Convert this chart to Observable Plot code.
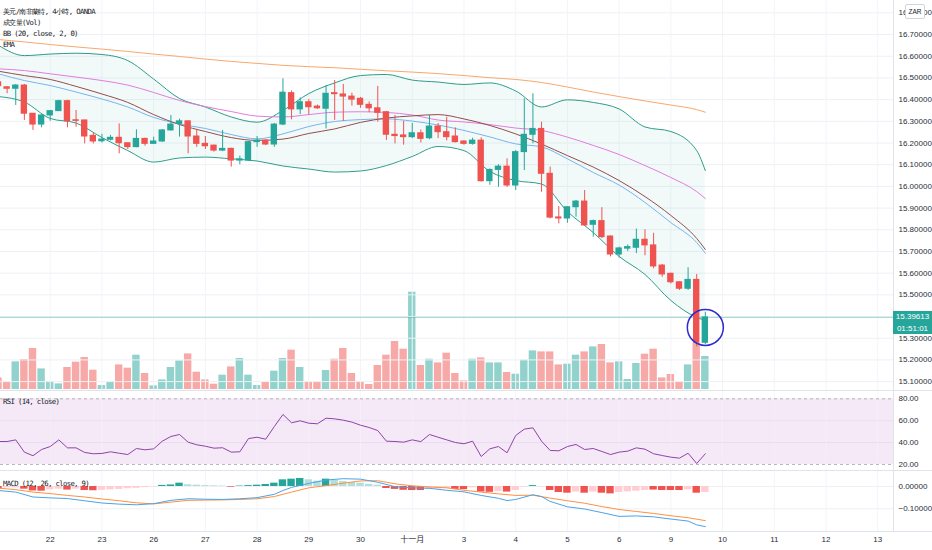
<!DOCTYPE html>
<html><head><meta charset="utf-8">
<script src="https://cdn.jsdelivr.net/npm/d3@7"></script>
<script src="https://cdn.jsdelivr.net/npm/@observablehq/plot@0.6"></script>
<style>
body{margin:0;background:#fff;}
#wrap{position:relative;width:932px;height:550px;overflow:hidden;font-family:"Liberation Sans",Arial,sans-serif;background:#fff;}
#wrap svg{position:absolute;left:0;}
.leg{position:absolute;left:3px;font:7.3px "DejaVu Sans Mono",monospace;letter-spacing:-0.65px;color:#131722;white-space:nowrap;line-height:8px;}
.sep{position:absolute;background:#e0e3eb;}
.tag{position:absolute;left:893px;width:39px;background:#26a69a;color:#fff;font:8px "Liberation Sans",Arial,sans-serif;text-align:center;}
</style></head><body><div id="wrap"></div>
<script>
// ---- data ----
const dayIndex = [6,12,18,24,30,36,42,48,54,60,66,72,78,84,90,96,102];
const dayLabels = ["22","23","26","27","28","29","30","十一月","3","4","5","6","9","10","11","12","13"];
const priceGrid = [15.1,15.2,15.3,15.4,15.5,15.6,15.7,15.8,15.9,16.0,16.1,16.2,16.3,16.4,16.5,16.6,16.7,16.8];
const priceLabels = [15.1,15.2,15.3,15.5,15.6,15.7,15.8,15.9,16.0,16.1,16.2,16.3,16.4,16.5,16.6,16.7,16.8];
const rsiTicks = [20,40,60,80];
const rsiBands = [20,80];
const macdTicks = [0,-0.1];
const lastPrice = 15.39613;
const countdown = "01:51:01";
const highlight = {index:82, price:15.35};

const opens = [16.480,16.457,16.450,16.465,16.335,16.285,16.327,16.347,16.393,16.305,16.304,16.233,16.208,16.215,16.224,16.199,16.181,16.219,16.196,16.207,16.258,16.288,16.300,16.230,16.196,16.188,16.165,16.173,16.119,16.119,16.204,16.211,16.193,16.285,16.430,16.355,16.388,16.368,16.358,16.430,16.424,16.414,16.404,16.376,16.360,16.342,16.238,16.235,16.227,16.245,16.222,16.276,16.250,16.230,16.207,16.196,16.211,16.024,16.076,16.091,16.004,16.158,16.238,16.265,16.058,15.857,15.852,15.904,15.930,15.823,15.840,15.769,15.686,15.713,15.717,15.754,15.728,15.635,15.597,15.558,15.528,15.569,15.279];
const highs = [16.485,16.460,16.470,16.470,16.335,16.330,16.350,16.397,16.397,16.350,16.305,16.245,16.240,16.235,16.288,16.200,16.261,16.222,16.227,16.262,16.327,16.310,16.302,16.260,16.230,16.190,16.258,16.176,16.140,16.207,16.230,16.215,16.290,16.496,16.440,16.408,16.400,16.375,16.465,16.488,16.470,16.430,16.410,16.390,16.461,16.345,16.327,16.300,16.290,16.260,16.327,16.290,16.319,16.270,16.210,16.222,16.224,16.080,16.100,16.127,16.165,16.404,16.427,16.296,16.089,15.907,15.906,15.935,15.981,15.845,15.902,15.772,15.720,15.730,15.803,15.800,15.784,15.640,15.600,15.560,15.625,15.594,15.420];
const lows = [16.455,16.427,16.373,16.304,16.258,16.270,16.300,16.345,16.270,16.273,16.196,16.196,16.200,16.210,16.150,16.170,16.178,16.185,16.193,16.203,16.255,16.227,16.150,16.180,16.170,16.158,16.160,16.089,16.100,16.115,16.180,16.188,16.180,16.280,16.307,16.331,16.330,16.355,16.265,16.304,16.300,16.370,16.360,16.340,16.296,16.212,16.196,16.190,16.220,16.200,16.215,16.220,16.210,16.200,16.190,16.190,16.020,16.005,15.996,15.995,15.981,16.073,16.196,15.973,15.850,15.827,15.830,15.858,15.815,15.766,15.760,15.675,15.670,15.700,15.690,15.680,15.620,15.581,15.550,15.520,15.520,15.260,15.270];
const closes = [16.462,16.450,16.465,16.335,16.285,16.327,16.347,16.393,16.300,16.302,16.230,16.207,16.216,16.224,16.199,16.181,16.219,16.196,16.207,16.258,16.285,16.300,16.230,16.196,16.185,16.165,16.173,16.119,16.125,16.204,16.211,16.193,16.285,16.432,16.355,16.388,16.365,16.360,16.427,16.425,16.414,16.400,16.376,16.360,16.339,16.238,16.232,16.227,16.245,16.219,16.276,16.250,16.227,16.204,16.196,16.211,16.024,16.076,16.091,16.004,16.158,16.238,16.265,16.058,15.856,15.852,15.904,15.930,15.820,15.840,15.766,15.686,15.714,15.720,15.754,15.728,15.631,15.594,15.558,15.528,15.569,15.279,15.396];
const volumes = [11600,7000,27600,30000,41000,20600,8000,5600,22000,27300,32000,19300,4000,7000,24600,21300,34300,16000,3600,9600,22000,28600,35600,17300,9600,5300,14300,22600,31000,14300,4000,7000,18300,31000,39300,22000,7000,7000,19000,30300,41000,16000,7600,5000,24000,34300,48000,40300,97300,24000,30300,26600,36300,16000,8600,30300,31600,26600,26600,17000,15300,29300,38600,37600,37600,24600,25300,34300,37600,42600,45000,26600,27600,10000,26000,35300,40300,11600,15000,7300,24600,46000,33000];

const lineIdx = [0,3,6,9,12,15,18,21,24,27,30,33,36,39,42,45,48,51,54,57,60,63,66,69,72,75,78,81,82];
const emaOrange = [16.677,16.666,16.654,16.643,16.633,16.622,16.610,16.599,16.587,16.576,16.567,16.558,16.552,16.547,16.540,16.533,16.527,16.520,16.511,16.501,16.493,16.479,16.458,16.435,16.414,16.394,16.375,16.354,16.342];
const emaPink = [16.542,16.534,16.519,16.504,16.488,16.467,16.433,16.396,16.368,16.345,16.324,16.320,16.331,16.342,16.344,16.341,16.329,16.306,16.297,16.285,16.269,16.258,16.227,16.189,16.147,16.096,16.041,15.976,15.944];
const emaBrown = [16.531,16.511,16.493,16.461,16.426,16.387,16.331,16.285,16.253,16.225,16.212,16.218,16.244,16.265,16.295,16.315,16.325,16.331,16.311,16.281,16.242,16.195,16.142,16.089,16.027,15.953,15.866,15.760,15.709];
const emaBlue = [16.519,16.488,16.465,16.435,16.403,16.366,16.318,16.288,16.267,16.239,16.219,16.242,16.276,16.299,16.308,16.311,16.301,16.283,16.258,16.228,16.196,16.182,16.127,16.064,16.006,15.926,15.833,15.741,15.692];
const bbUpper = [16.650,16.603,16.610,16.614,16.608,16.580,16.495,16.405,16.366,16.320,16.296,16.350,16.428,16.477,16.511,16.516,16.490,16.481,16.470,16.477,16.440,16.366,16.399,16.387,16.357,16.274,16.253,16.165,16.073];
const bbLower = [16.414,16.389,16.313,16.292,16.225,16.165,16.112,16.131,16.135,16.127,16.117,16.094,16.080,16.066,16.071,16.096,16.138,16.184,16.165,16.069,16.027,16.011,15.884,15.787,15.677,15.594,15.474,15.396,15.382];

const rsi = [41,41,42.5,31.3,28,33.7,36.4,42.5,35.2,35.2,31,29.8,30.1,31.6,30.3,29.1,34.6,33.4,34.3,41.3,45.6,47.4,40.4,38,36.7,34.9,35.3,31.3,31.6,43.7,44.9,43.1,54.7,65.7,58.1,59.9,57.7,57.2,62.3,61.7,60.5,58.7,55.9,53.8,51,41.3,41,40.4,42.5,40.9,47.4,44.9,42.5,40.1,38.9,41.3,27.3,34.3,36.4,30.7,46.5,52.3,53.5,41.3,32.8,32.5,36.4,38.3,33.7,34.6,31.9,29.1,31.3,32.2,35.2,34,29.8,28.2,26.7,25.8,30.3,20.9,29.8];

const macdIdx = [0,2,4,6,8,10,12,14,16,18,20,22,24,26,28,30,32,33,34,36,38,40,42,44,46,48,50,52,54,56,58,59,60,62,63,64,66,68,70,72,74,76,78,80,81,82];
const macdVals = [-0.018,-0.025,-0.047,-0.051,-0.054,-0.064,-0.074,-0.079,-0.082,-0.077,-0.062,-0.055,-0.057,-0.058,-0.055,-0.050,-0.035,-0.018,-0.004,0.014,0.029,0.035,0.033,0.019,-0.001,-0.006,-0.008,-0.017,-0.024,-0.040,-0.053,-0.063,-0.058,-0.037,-0.045,-0.067,-0.091,-0.101,-0.117,-0.134,-0.132,-0.136,-0.146,-0.155,-0.172,-0.180];
const signalIdx = [0,2,4,6,8,10,12,14,16,18,20,22,24,26,28,30,32,34,36,38,40,42,44,46,48,50,52,54,56,58,60,62,64,66,68,70,72,74,76,78,80,82];
const signalVals = [-0.0075,-0.014,-0.025,-0.032,-0.040,-0.047,-0.056,-0.064,-0.073,-0.078,-0.070,-0.062,-0.061,-0.060,-0.058,-0.055,-0.045,-0.025,-0.006,0.004,0.015,0.025,0.026,0.012,0.003,-0.002,-0.006,-0.017,-0.025,-0.033,-0.040,-0.039,-0.052,-0.064,-0.075,-0.090,-0.103,-0.112,-0.121,-0.131,-0.140,-0.153];
const histVals = [-0.009,-0.006,-0.006,-0.012,-0.020,-0.021,-0.015,-0.012,-0.016,-0.012,-0.018,-0.019,-0.017,-0.015,-0.013,-0.010,-0.008,-0.005,-0.002,0.005,0.007,0.015,0.008,0.006,0.004,0.003,0.002,-0.003,0.002,0.004,0.006,0.009,0.015,0.030,0.033,0.036,0.030,0.024,0.033,0.027,0.022,0.018,0.015,0.010,0.006,-0.009,-0.013,-0.017,-0.018,-0.018,-0.013,-0.011,-0.009,-0.013,-0.014,-0.006,-0.025,-0.026,-0.022,-0.025,-0.018,-0.003,0.004,-0.002,-0.018,-0.027,-0.030,-0.025,-0.030,-0.025,-0.030,-0.033,-0.027,-0.024,-0.021,-0.018,-0.016,-0.018,-0.018,-0.018,-0.015,-0.030,-0.027];
const histState = ["dn","dnF","dnF","dn","dn","dn","dnF","dnF","dn","dnF","dn","dn","dnF","dnF","dnF","dnF","dnF","dnF","dnF","up","up","up","upF","upF","upF","upF","upF","dn","up","up","up","up","up","up","up","up","upF","upF","up","upF","upF","upF","upF","upF","upF","dn","dn","dn","dn","dn","dnF","dnF","dnF","dn","dn","dnF","dn","dn","dnF","dn","dnF","dnF","up","dnF","dn","dn","dn","dnF","dn","dnF","dn","dn","dnF","dnF","dnF","dnF","dn","dn","dn","dn","dnF","dn","dnF"];

// ---- styling ----
const UP = "#26a69a", DN = "#ef5350";
const histColor = {up:"#26a69a", upF:"#b2dfdb", dn:"#ef5350", dnF:"#ffcdd2"};
const XD = [0.232, 103.83];
const W = 932, MR = 39;
const font = {fontFamily:"'Liberation Sans', Arial, 'Noto Sans CJK TC', sans-serif", fontSize:"8px", background:"transparent", overflow:"visible"};

const candles = opens.map((o,i)=>({i, o, h:highs[i], l:lows[i], c:closes[i], v:volumes[i], col: closes[i]>=o ? UP : DN}));
const lines = lineIdx.map((i,k)=>({i, orange:emaOrange[k], pink:emaPink[k], brown:emaBrown[k], blue:emaBlue[k], up:bbUpper[k], lo:bbLower[k]}));
const rsiData = rsi.map((v,i)=>({i, v}));
const macdData = macdIdx.map((i,k)=>({i, v:macdVals[k]}));
const sigData = signalIdx.map((i,k)=>({i, v:signalVals[k]}));
const histData = histVals.map((v,i)=>({i, v, col:histColor[histState[i]]}));

const wrap = document.getElementById("wrap");

// main price pane
const main = Plot.plot({
  width:W, height:390, marginLeft:0, marginRight:MR, marginTop:0, marginBottom:0,
  style:font,
  x:{domain:XD, axis:null}, y:{domain:[15.059,16.857]}, color:{type:"identity"},
  marks:[
    Plot.gridY(priceGrid,{stroke:"#eef0f5", strokeOpacity:1}),
    Plot.gridX(dayIndex,{stroke:"#f3f4f8", strokeOpacity:1}),
    Plot.areaY(lines,{x:"i", y1:"lo", y2:"up", fill:"#26a69a", fillOpacity:0.06, curve:"monotone-x", clip:true}),
    Plot.line(lines,{x:"i", y:"up", stroke:"#2f9c8b", strokeWidth:1, curve:"monotone-x", clip:true}),
    Plot.line(lines,{x:"i", y:"lo", stroke:"#2f9c8b", strokeWidth:1, curve:"monotone-x", clip:true}),
    Plot.line(lines,{x:"i", y:"orange", stroke:"#f9a86b", strokeWidth:1, curve:"monotone-x", clip:true}),
    Plot.line(lines,{x:"i", y:"pink", stroke:"#e47be0", strokeWidth:1, curve:"monotone-x", clip:true}),
    Plot.line(lines,{x:"i", y:"blue", stroke:"#79b4ee", strokeWidth:1, curve:"monotone-x", clip:true}),
    Plot.line(lines,{x:"i", y:"brown", stroke:"#934d4b", strokeWidth:1, curve:"monotone-x", clip:true}),
    Plot.ruleY([lastPrice],{stroke:"#26a69a", strokeOpacity:0.45, strokeWidth:1}),
    Plot.ruleX(candles,{x:"i", y1:"l", y2:"h", stroke:"col", strokeWidth:1, clip:true}),
    Plot.rect(candles,{x1:d=>d.i-0.37, x2:d=>d.i+0.37, y1:"o", y2:"c", fill:"col", insetTop:-0.5, insetBottom:-0.5, clip:true}),
    Plot.dot([highlight],{x:"index", y:"price", r:18, stroke:"#2b2bd1", strokeWidth:1.5, fill:"none"}),
    Plot.axisY(priceLabels,{anchor:"right", tickSize:0, tickPadding:5, tickFormat:d=>d.toFixed(5), label:null, fill:"#2a2e39"})
  ]
});
main.style.top = "0px";

// volume overlay (same time scale, own volume scale)
const volPlot = Plot.plot({
  width:W, height:390, marginLeft:0, marginRight:MR, marginTop:0, marginBottom:1,
  style:font,
  x:{domain:XD, axis:null}, y:{domain:[0,389000], axis:null}, color:{type:"identity"},
  marks:[
    Plot.rectY(candles,{x1:d=>d.i-0.43, x2:d=>d.i+0.43, y:"v", fill:"col", fillOpacity:0.5, clip:true})
  ]
});
volPlot.style.top = "0px";

// RSI pane
const rsiPlot = Plot.plot({
  width:W, height:81, marginLeft:0, marginRight:MR, marginTop:0, marginBottom:0,
  style:font,
  x:{domain:XD, axis:null}, y:{domain:[13.6,87.6]},
  marks:[
    Plot.rect([rsiBands],{y1:d=>d[0], y2:d=>d[1], fill:"#9c27b0", fillOpacity:0.1}),
    Plot.gridY([40,60],{stroke:"#e9dcf2", strokeOpacity:1}),
    Plot.gridX(dayIndex,{stroke:"#f3f4f8", strokeOpacity:0.6}),
    Plot.ruleY(rsiBands,{stroke:"#9598a1", strokeOpacity:0.7, strokeDasharray:"3,3"}),
    Plot.line(rsiData,{x:"i", y:"v", stroke:"#8e44a8", strokeWidth:1, clip:true}),
    Plot.axisY(rsiTicks,{anchor:"right", tickSize:0, tickPadding:5, tickFormat:d=>d.toFixed(2), label:null, fill:"#2a2e39"})
  ]
});
rsiPlot.style.top = "390px";

// MACD pane + time axis
const macdPlot = Plot.plot({
  width:W, height:79, marginLeft:0, marginRight:MR, marginTop:0, marginBottom:19,
  style:font,
  x:{domain:XD}, y:{domain:[-0.2018,0.0673]}, color:{type:"identity"},
  marks:[
    Plot.gridY(macdTicks,{stroke:"#eef0f5", strokeOpacity:1}),
    Plot.gridX(dayIndex,{stroke:"#f3f4f8", strokeOpacity:1}),
    Plot.rectY(histData,{x1:d=>d.i-0.43, x2:d=>d.i+0.43, y:"v", fill:"col", clip:true}),
    Plot.line(sigData,{x:"i", y:"v", stroke:"#ff9040", strokeWidth:1, clip:true}),
    Plot.line(macdData,{x:"i", y:"v", stroke:"#4aa3e8", strokeWidth:1, clip:true}),
    Plot.axisY(macdTicks,{anchor:"right", tickSize:0, tickPadding:5, tickFormat:d=>d.toFixed(5).replace("-","−"), label:null, fill:"#2a2e39"}),
    Plot.axisX(dayIndex,{anchor:"bottom", tickSize:0, tickPadding:5, tickFormat:(d,k)=>dayLabels[k], label:null, fill:"#2a2e39"})
  ]
});
macdPlot.style.top = "471px";

wrap.append(volPlot, main, rsiPlot, macdPlot);

// separators
function sep(l,t,w,h){const d=document.createElement("div");d.className="sep";Object.assign(d.style,{left:l+"px",top:t+"px",width:w+"px",height:h+"px"});wrap.append(d);}
sep(893,0,1,531);
sep(0,390,932,1);
sep(0,470,932,1);
sep(0,531,932,1);

// price / countdown tags
const py = main.scale("y").apply(lastPrice);
function tag(text, top, h){const d=document.createElement("div");d.className="tag";d.textContent=text;Object.assign(d.style,{top:top+"px",height:h+"px",lineHeight:h+"px"});wrap.append(d);}
tag(lastPrice.toFixed(5), py-6, 12);
tag(countdown, py+6, 11);

// currency button
const zar = document.createElement("div");
zar.textContent = "ZAR";
Object.assign(zar.style,{position:"absolute",left:"905px",top:"4px",width:"18px",height:"13px",border:"1px solid #d1d4dc",borderRadius:"2px",background:"#fff",font:"6.5px 'Liberation Sans',Arial,sans-serif",textAlign:"center",lineHeight:"13px",color:"#131722"});
wrap.append(zar);

// legends
const legends = [["美元/南非蘭特, 4小時, OANDA",8],["成交量(Vol)",19],["BB (20, close, 2, 0)",30],["EMA",41],["RSI (14, close)",398],["MACD (12, 26, close, 9)",480]];
legends.forEach(([t,top])=>{const d=document.createElement("div");d.className="leg";d.textContent=t;d.style.top=top+"px";wrap.append(d);});
</script></body></html>
